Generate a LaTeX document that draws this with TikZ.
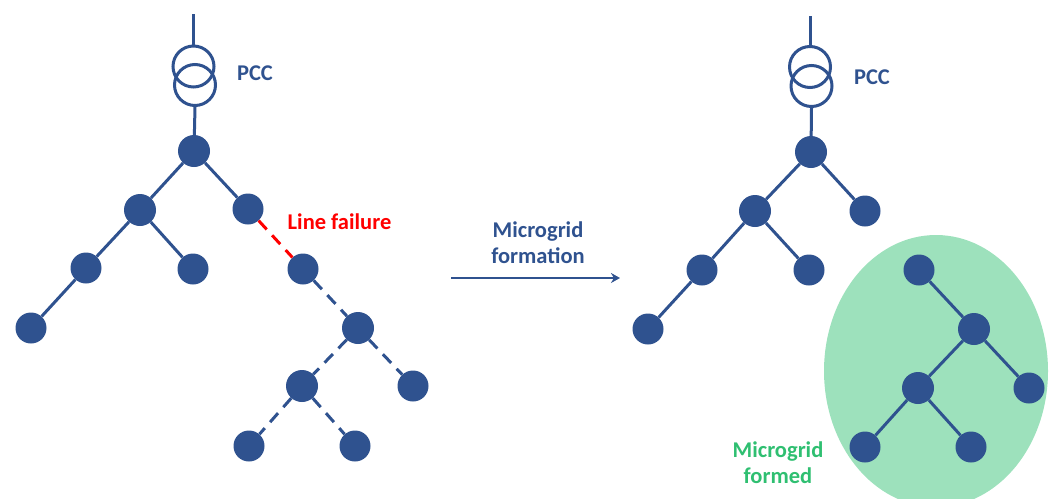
\documentclass[tikz,border=0pt]{standalone}
\usepackage{fontspec}
\setmainfont{Carlito}
\usetikzlibrary{shapes.geometric,arrows.meta}
\definecolor{navy}{HTML}{2F528F}
\definecolor{mgfill}{HTML}{9DE1BC}
\definecolor{mgtext}{HTML}{2FBF71}
\tikzset{
  bus/.style={circle,fill=navy,draw=none,minimum size=32pt,inner sep=0pt},
  smallbus/.style={circle,fill=navy,draw=none,minimum size=31pt,inner sep=0pt},
  wire/.style={draw=navy,line width=3pt},
  dashwire/.style={wire,dash pattern=on 12pt off 8pt},
  failwire/.style={draw=red,line width=3pt,dash pattern=on 12pt off 8pt},
  coil/.style={circle,draw=navy,line width=3pt,minimum size=41pt,inner sep=0pt,fill=none},
  lab/.style={font=\fontsize{22.5}{26}\selectfont\bfseries,align=center,inner sep=0pt},
  arrow/.style={draw=navy,line width=2.5pt,-{Stealth[length=9pt,width=10pt]}}
}
\begin{document}
\begin{tikzpicture}[x=1pt,y=-1pt]
\useasboundingbox (0,0) rectangle (1052,498);
\begin{scope}
\clip (0,0) rectangle (1052,498);
\node[ellipse,fill=mgfill,draw=none,minimum width=224pt,minimum height=272pt,inner sep=0pt] (zone) at (936,371) {};
\end{scope}
% left network
\coordinate (Lt) at (193.5,14);
\node[coil] (Lc1) at (193.5,66.5) {};
\node[coil] (Lc2) at (195,85) {};
\node[bus] (L1) at (194,151) {};
\node[bus] (L2) at (140,210) {};
\node[smallbus] (L3) at (248,209) {};
\node[smallbus] (L4) at (86,268) {};
\node[smallbus] (L5) at (193,269) {};
\node[smallbus] (L6) at (303,269) {};
\node[smallbus] (L7) at (31,328) {};
\node[bus] (L8) at (358,328) {};
\node[bus] (L9) at (302,386) {};
\node[smallbus] (L10) at (413,386) {};
\node[smallbus] (L11) at (249,446) {};
\node[smallbus] (L12) at (355,446) {};
\draw[wire] (Lt) -- (Lc1.north);
\draw[wire] (Lc2.south) -- (L1);
\draw[wire] (L1) -- (L2);
\draw[wire] (L1) -- (L3);
\draw[wire] (L2) -- (L4);
\draw[wire] (L2) -- (L5);
\draw[wire] (L4) -- (L7);
\draw[failwire] (L3) -- (L6);
\draw[dashwire] (L6) -- (L8);
\draw[dashwire] (L8) -- (L9);
\draw[dashwire] (L8) -- (L10);
\draw[dashwire] (L9) -- (L11);
\draw[dashwire] (L9) -- (L12);
% right network
\coordinate (Rt) at (810,16);
\node[coil] (Rc1) at (810,67) {};
\node[coil] (Rc2) at (811.5,86) {};
\node[bus] (R1) at (811,152) {};
\node[bus] (R2) at (755,211) {};
\node[smallbus] (R3) at (865,211) {};
\node[smallbus] (R4) at (702,270) {};
\node[smallbus] (R5) at (809,270) {};
\node[smallbus] (R6) at (919,270) {};
\node[smallbus] (R7) at (648,329) {};
\node[bus] (R8) at (974,329) {};
\node[bus] (R9) at (918,388) {};
\node[smallbus] (R10) at (1029,388) {};
\node[smallbus] (R11) at (865,447) {};
\node[smallbus] (R12) at (971,447) {};
\draw[wire] (Rt) -- (Rc1.north);
\draw[wire] (Rc2.south) -- (R1);
\draw[wire] (R1) -- (R2);
\draw[wire] (R1) -- (R3);
\draw[wire] (R2) -- (R4);
\draw[wire] (R2) -- (R5);
\draw[wire] (R4) -- (R7);
\draw[wire] (R6) -- (R8);
\draw[wire] (R8) -- (R9);
\draw[wire] (R8) -- (R10);
\draw[wire] (R9) -- (R11);
\draw[wire] (R9) -- (R12);
% arrow
\coordinate (As) at (451,278);
\coordinate (Ae) at (620,278);
\draw[arrow] (As) -- (Ae);
% labels
\node[lab,text=navy] (pccl) at (255,73) {PCC};
\node[lab,text=navy] (pccr) at (872,77) {PCC};
\node[lab,text=red] (fail) at (339.5,222) {Line failure};
\node[lab,text=navy] (form) at (538,243) {Microgrid\\formation};
\node[lab,text=mgtext] (formed) at (778,463) {Microgrid\\formed};
\end{tikzpicture}
\end{document}
